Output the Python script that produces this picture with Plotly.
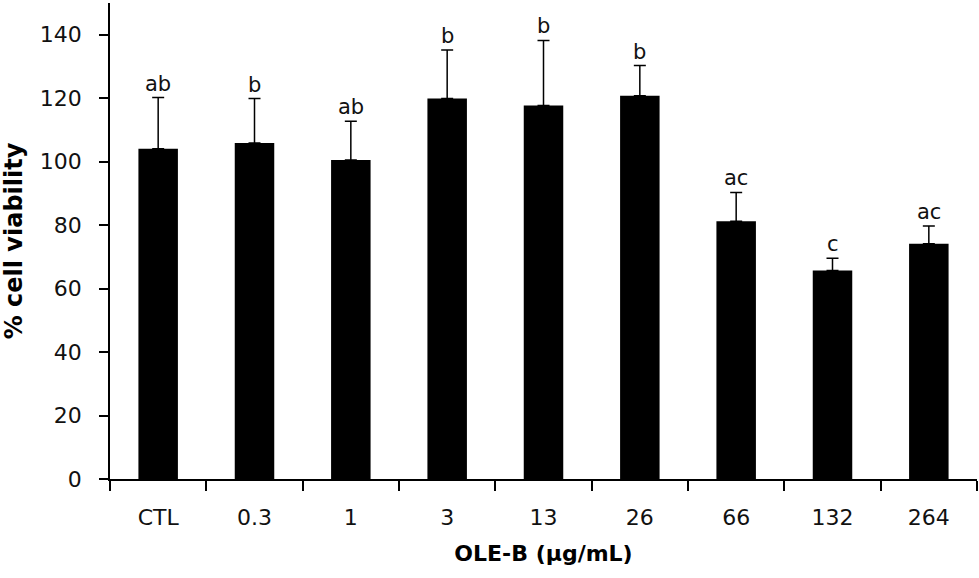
import plotly.graph_objects as go

categories = ["CTL", "0.3", "1", "3", "13", "26", "66", "132", "264"]
viability = [104.1, 105.9, 100.5, 119.9, 117.7, 120.8, 81.2, 65.7, 74.1]
sd = [16.1, 14.0, 12.2, 15.3, 20.5, 9.5, 9.1, 3.9, 5.6]
letters = ["ab", "b", "ab", "b", "b", "b", "ac", "c", "ac"]

FONT = "DejaVu Sans, sans-serif"

fig = go.Figure()
fig.add_trace(go.Bar(
    x=categories, y=viability,
    marker=dict(color="black", line=dict(width=0)),
    width=0.41,
    error_y=dict(type="data", array=sd, symmetric=False, arrayminus=[0]*len(sd),
                 color="black", thickness=1.5, width=6, visible=True),
))

for i, (v, e, t) in enumerate(zip(viability, sd, letters)):
    fig.add_annotation(x=i, y=v + e, text=t, showarrow=False,
                       xref="x", yref="y",
                       yanchor="bottom", yshift=0,
                       font=dict(family=FONT, size=21, color="#111"))

fig.update_layout(
    width=979, height=578,
    margin=dict(l=110, r=2, t=3, b=99, autoexpand=False),
    plot_bgcolor="white", paper_bgcolor="white",
    showlegend=False,
    font=dict(family=FONT, size=22, color="black"),
    xaxis=dict(
        type="category", range=[-0.5, len(categories) - 0.5], autorange=False,
        categoryorder="array", categoryarray=categories,
        automargin=False,
        showline=True, linecolor="black", linewidth=1.5,
        ticks="outside", tickson="boundaries", ticklen=10, tickcolor="black", tickwidth=1.5,
        ticklabelstandoff=18, tickangle=0,
        tickfont=dict(family=FONT, size=22, color="#111"),
        showgrid=False, zeroline=False,
        title=dict(text="<b>OLE-B (µg/mL)</b>", font=dict(family=FONT, size=22, color="black"), standoff=16),
    ),
    yaxis=dict(
        range=[0, 150], autorange=False, tickvals=[0, 20, 40, 60, 80, 100, 120, 140],
        automargin=False,
        showline=True, linecolor="black", linewidth=1.5,
        ticks="outside", ticklen=9, tickcolor="black", tickwidth=1.5,
        ticklabelstandoff=13,
        tickfont=dict(family=FONT, size=22, color="#111"),
        showgrid=False, zeroline=False,
        title=dict(text="<b>% cell viability</b>", font=dict(family=FONT, size=24, color="black"), standoff=10),
    ),
)

fig.write_html("out.html", config={"displayModeBar": False},
               post_script="document.body.style.margin='0';document.body.style.overflow='hidden';")
